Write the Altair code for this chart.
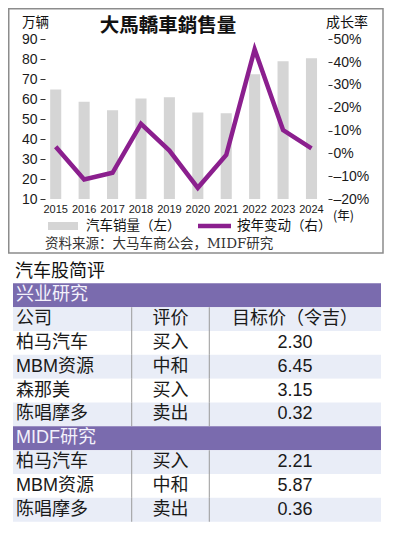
import altair as alt
import pandas as pd

# ---- chart data ----
years = ["2015", "2016", "2017", "2018", "2019", "2020", "2021", "2022", "2023", "2024"]
sales = [64.9, 58.7, 54.5, 60.3, 61.0, 53.3, 53.0, 72.5, 79.0, 80.5]      # 万辆
growth = [2.9, -11.4, -8.5, 12.9, 1.2, -15.1, -0.7, 45.6, 10.2, 2.2]      # %
left_ticks = [10, 20, 30, 40, 50, 60, 70, 80, 90]
right_ticks = [-20, -10, 0, 10, 20, 30, 40, 50]

# ---- table data ----
table_title = "汽车股简评"
sections = ["兴业研究", "MIDF研究"]
headers = ["公司", "评价", "目标价（令吉）"]
hl_companies = ["柏马汽车", "MBM资源", "森那美", "陈唱摩多"]
hl_ratings = ["买入", "中和", "买入", "卖出"]
hl_targets = ["2.30", "6.45", "3.15", "0.32"]
midf_companies = ["柏马汽车", "MBM资源", "陈唱摩多"]
midf_ratings = ["买入", "中和", "卖出"]
midf_targets = ["2.21", "5.87", "0.36"]

W, H = 383, 519
CJK = "Noto Sans CJK SC"
LAT = "Liberation Sans, Noto Sans CJK SC"
NARROW = "Liberation Sans Narrow, Arial Narrow, Liberation Sans"
PURPLE_LINE = "#8b1f8e"
BAR = "#d5d5d5"

chart_df = pd.DataFrame({"year": years, "sales": sales, "growth": growth})

# build table rows
rows = []
rows.append(dict(c1=sections[0], c2="", c3="", kind="section"))
body = [(headers[0], headers[1], headers[2])] + list(zip(hl_companies, hl_ratings, hl_targets))
for i, (a, b, c) in enumerate(body):
    rows.append(dict(c1=a, c2=b, c3=c, kind="light" if i % 2 == 0 else "white"))
rows.append(dict(c1=sections[1], c2="", c3="", kind="section"))
for i, (a, b, c) in enumerate(zip(midf_companies, midf_ratings, midf_targets)):
    rows.append(dict(c1=a, c2=b, c3=c, kind="light" if i % 2 == 0 else "white"))
table_df = pd.DataFrame(rows)
table_df["row"] = range(len(table_df))
n_rows = len(table_df)

one = pd.DataFrame({"k": [0]})

# ---- scales ----
x_band = alt.Scale(type="band", domain=years, range=[33.5, 317.7], paddingInner=0.61, paddingOuter=0.305)
x_point = alt.Scale(type="point", domain=years, range=[33.5, 317.7], padding=0.5)
y_left = alt.Scale(domain=[10, 90], range=[191, 31.3], nice=False, zero=False)
y_right = alt.Scale(domain=[-20, 50], range=[191, 31.3], nice=False, zero=False)
row_band = alt.Scale(type="band", domain=list(range(n_rows)), range=[275.3, 513.7], paddingInner=0, paddingOuter=0)
row_point = alt.Scale(type="point", domain=list(range(n_rows)), range=[275.3, 513.7], padding=0.5)

# ---- frame ----
frame = alt.Chart(one).mark_rect(fill="transparent", stroke="#8c8c8c", strokeWidth=1.5).encode(
    x=alt.value(0.75), x2=alt.value(375), y=alt.value(0.75), y2=alt.value(245)
)

bars = alt.Chart(chart_df).mark_bar(color=BAR).encode(
    x=alt.X("year:O", scale=x_band, axis=alt.Axis(
        orient="bottom", offset=-(H - 191), ticks=False, tickSize=0, domain=False, grid=False,
        labelAngle=0, labelPadding=4, labelFont=NARROW, labelFontSize=11, labelColor="#1a1a1a",
        title=None, zindex=1)),
    y=alt.Y("sales:Q", scale=y_left, axis=alt.Axis(
        orient="left", offset=-37, values=left_ticks, tickSize=5, tickColor="#333", tickWidth=1,
        domain=False, grid=False, labelPadding=3, labelFont=LAT, labelFontSize=14,
        labelColor="#1a1a1a", title=None, zindex=1)),
    y2=alt.datum(10),
)

line = alt.Chart(chart_df).mark_line(color=PURPLE_LINE, strokeWidth=4.5).encode(
    x=alt.X("year:O", scale=x_point, axis=None),
    y=alt.Y("growth:Q", scale=y_right, axis=alt.Axis(
        orient="right", offset=-63, values=right_ticks, tickSize=4, tickColor="#333", tickWidth=1,
        domain=False, grid=False, labelPadding=1, labelFont=LAT, labelFontSize=14,
        labelColor="#1a1a1a", title=None, zindex=1,
        labelExpr="datum.value < 0 ? '–' + abs(datum.value) + '%' : datum.value + '%'")),
)

def label(text, x, y, size, align="left", color="#111", font=CJK, weight="normal"):
    return alt.Chart(one).mark_text(
        text=text, align=align, baseline="middle", fontSize=size, font=font,
        fontWeight=weight, color=color
    ).encode(x=alt.value(x), y=alt.value(y))

title = label("大馬轎車銷售量", 160, 18, 19.5, align="center", weight="bold", font="Noto Sans CJK TC")
unit_l = label("万辆", 14, 14.5, 13.5)
unit_r = label("成长率", 318, 14.5, 14)
year_unit = label("(年)", 325, 208, 12.5)

legend_box = alt.Chart(one).mark_rect(color=BAR).encode(
    x=alt.value(40), x2=alt.value(70), y=alt.value(214), y2=alt.value(222))
legend_txt1 = label("汽车销量（左）", 78, 218, 13.5)
legend_line = alt.Chart(one).mark_rule(color=PURPLE_LINE, strokeWidth=4.5).encode(
    x=alt.value(190), x2=alt.value(223), y=alt.value(218))
legend_txt2 = label("按年变动（右）", 229, 218, 13.5)
source = label("资料来源：大马车商公会，MIDF研究", 37, 236, 13.5, color="#333",
               font="DejaVu Serif, Noto Sans CJK SC")

tbl_title = label(table_title, 7, 264, 18, color="#111")

row_bg = alt.Chart(table_df).mark_rect().encode(
    y=alt.Y("row:O", scale=row_band, axis=None),
    x=alt.value(5), x2=alt.value(373),
    color=alt.Color("kind:N", scale=alt.Scale(domain=["section", "light", "white"],
                                               range=["#7a6bae", "#e9edf7", "#ffffff"]), legend=None),
)

def sep(xpos):
    return alt.Chart(table_df).transform_filter("datum.kind != 'section'").mark_rect(color="#9a9a9a").encode(
        y=alt.Y("row:O", scale=row_band, axis=None),
        x=alt.value(xpos), x2=alt.value(xpos + 1),
    )

text_color = alt.Color("kind:N", scale=alt.Scale(domain=["section", "light", "white"],
                                                 range=["#f3f1fb", "#1a1a1a", "#1a1a1a"]), legend=None)

def col_text(field, xpos, align):
    return alt.Chart(table_df).mark_text(align=align, baseline="middle", fontSize=18, font=LAT).encode(
        y=alt.Y("row:O", scale=row_point, axis=None),
        x=alt.value(xpos),
        text=f"{field}:N",
        color=text_color,
    )

chart = alt.layer(
    frame, bars, line, title, unit_l, unit_r, year_unit,
    legend_box, legend_txt1, legend_line, legend_txt2, source,
    tbl_title, row_bg, sep(123.2), sep(200.8),
    col_text("c1", 8, "left"), col_text("c2", 162.5, "center"), col_text("c3", 287, "center"),
).resolve_scale(x="independent", y="independent", color="independent").properties(
    width=W, height=H, padding=0, autosize=alt.AutoSizeParams(type="none"), background="white"
).configure_view(strokeWidth=0)

chart.save("out.html", embed_options={"renderer": "svg", "actions": False})
